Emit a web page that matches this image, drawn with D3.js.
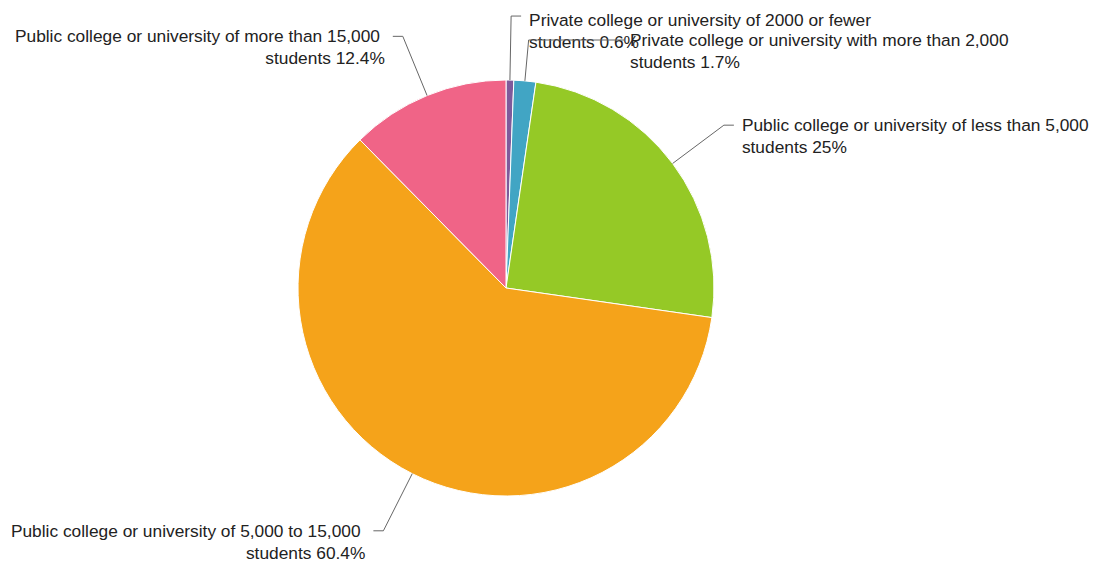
<!DOCTYPE html>
<html>
<head>
<meta charset="utf-8">
<script src="https://cdn.jsdelivr.net/npm/d3@7"></script>
<style>
  html, body { margin: 0; padding: 0; background: #fff; }
  svg text { font-family: "Liberation Sans", Arial, Helvetica, sans-serif; }
</style>
</head>
<body>
<svg id="chart" width="1104" height="567"></svg>
<script>
// ---- data ----
const categories = [
  "Private college or university of 2000 or fewer students",
  "Private college or university with more than 2,000 students",
  "Public college or university of less than 5,000 students",
  "Public college or university of 5,000 to 15,000 students",
  "Public college or university of more than 15,000 students"
];
const values = [0.6, 1.7, 25, 60.4, 12.4];
const colors = ["#7e5a9b", "#41a5c4", "#95c926", "#f5a31a", "#f06487"];

// ---- layout ----
const width = 1104, height = 567;
const cx = 506, cy = 288, radius = 208;
const elbowR = 272;
const hLen = 10, gap = 8, lineH = 22, fontSize = 17.33;

const svg = d3.select("#chart");
const g = svg.append("g").attr("transform", `translate(${cx},${cy})`);

const pie = d3.pie().sort(null).value(d => d.value);
const arcs = pie(categories.map((c, i) => ({ cat: c, value: values[i], color: colors[i] })));
const arc = d3.arc().innerRadius(0).outerRadius(radius);

g.selectAll("path.slice")
  .data(arcs)
  .join("path")
  .attr("class", "slice")
  .attr("d", arc)
  .attr("fill", d => d.data.color)
  .attr("stroke", "#fff")
  .attr("stroke-width", 1);

// label placement adjustments (collision avoidance for the tiny slices)
const overrides = {
  0: { textDy: 4 },
  1: { y: -248, textX: 124 }
};

function polar(a, r) { return [Math.sin(a) * r, -Math.cos(a) * r]; }

arcs.forEach((d, i) => {
  const mid = (d.startAngle + d.endAngle) / 2;
  const right = mid < Math.PI;
  const p0 = polar(mid, radius);
  let p1 = polar(mid, elbowR);
  const ov = overrides[i] || {};
  if (ov.y !== undefined) {
    const rr = ov.y / -Math.cos(mid);
    p1 = polar(mid, rr);
  }
  let p2x = right ? p1[0] + hLen : p1[0] - hLen;
  let textX = right ? p2x + gap : p2x - gap;
  if (ov.textX !== undefined) { textX = ov.textX; p2x = textX - 5; }
  const p2 = [p2x, p1[1]];

  g.append("polyline")
    .attr("points", [p0, p1, p2].map(p => p.join(",")).join(" "))
    .attr("fill", "none")
    .attr("stroke", "#666")
    .attr("stroke-width", 1);

  const words = d.data.cat.split(" ");
  const line1 = words.slice(0, -1).join(" ") + "\u00a0";
  const line2 = words[words.length - 1] + " " + d.data.value + "%";

  const t = g.append("text")
    .attr("x", textX)
    .attr("y", p1[1] + (ov.textDy || 0))
    .attr("text-anchor", right ? "start" : "end")
    .attr("font-size", fontSize)
    .attr("fill", "#222");
  t.append("tspan").attr("x", textX).attr("dy", "0.35em").text(line1);
  t.append("tspan").attr("x", textX).attr("dy", lineH).text(line2);
});
</script>
</body>
</html>
